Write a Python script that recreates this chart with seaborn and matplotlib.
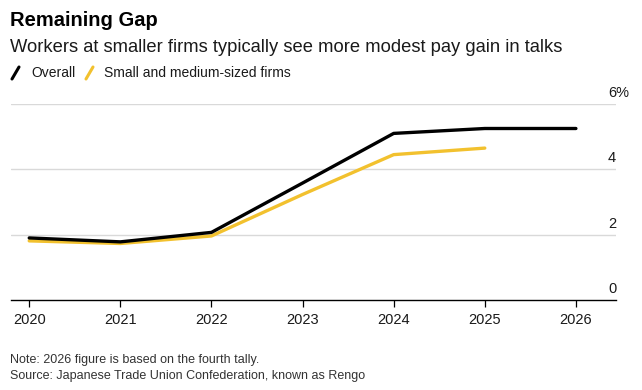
import matplotlib
matplotlib.use('Agg')
import matplotlib.pyplot as plt
import matplotlib.transforms as mtransforms
from matplotlib.lines import Line2D
import seaborn as sns
import pandas as pd

# data (% pay gain in spring wage talks)
years_overall = [2020, 2021, 2022, 2023, 2024, 2025, 2026]
overall = [1.90, 1.78, 2.07, 3.58, 5.10, 5.25, 5.25]
years_sme = [2020, 2021, 2022, 2023, 2024, 2025]
sme = [1.81, 1.73, 1.96, 3.23, 4.45, 4.65]
y_ticks = [0, 2, 4, 6]
y_labels = ['0', '2', '4', '6%']

df = pd.concat([
    pd.DataFrame({'year': years_overall, 'gain': overall, 'series': 'Overall'}),
    pd.DataFrame({'year': years_sme, 'gain': sme, 'series': 'Small and medium-sized firms'}),
])

sns.set_theme(style='white')
plt.rcParams['font.family'] = ['Liberation Sans', 'DejaVu Sans']

BLACK = '#000000'
YELLOW = '#F2C12E'
TEXT = '#1a1a1a'

fig = plt.figure(figsize=(6.42, 3.90), dpi=100)
W, H = 642, 390
ax = fig.add_axes([11 / W, 1 - 300 / H, (616 - 11) / W, (300 - 104) / H])

sns.lineplot(data=df, x='year', y='gain', hue='series',
             palette={'Overall': BLACK, 'Small and medium-sized firms': YELLOW},
             hue_order=['Small and medium-sized firms', 'Overall'],
             linewidth=2.4, legend=False, ax=ax)

ax.set_xlim(2019.8, 2026.44)
ax.set_ylim(0, 6)
ax.set_xticks(years_overall)
ax.set_xticklabels([str(y) for y in years_overall], fontsize=10.5, color=TEXT)
ax.tick_params(axis='x', direction='out', length=5, width=0.9, color=BLACK, pad=4, bottom=True)
ax.set_yticks(y_ticks)
ax.set_yticklabels([])
ax.tick_params(axis='y', length=0)
ax.set_xlabel('')
ax.set_ylabel('')
for s in ['top', 'right', 'left']:
    ax.spines[s].set_visible(False)
ax.spines['bottom'].set_color(BLACK)
ax.spines['bottom'].set_linewidth(1.0)

for t in y_ticks[1:]:
    ax.axhline(t, color='#d9d9d9', linewidth=1.0, zorder=0)

# y labels sit above the gridlines on the right
offset = mtransforms.ScaledTranslation(-8 / 100, 4 / 100, fig.dpi_scale_trans)
trans = mtransforms.blended_transform_factory(ax.transAxes, ax.transData) + offset
for t, lab in zip(y_ticks, y_labels):
    ax.text(1.0, t, lab, transform=trans, ha='left', va='bottom', fontsize=10.5, color=TEXT)

# titles
fig.text(10 / W, 1 - 21 / H, 'Remaining Gap', fontsize=14.5, fontweight='bold', color=BLACK, va='center')
fig.text(10 / W, 1 - 48 / H, 'Workers at smaller firms typically see more modest pay gain in talks',
         fontsize=13.2, color=TEXT, va='center')

# legend: slanted strokes + labels
ly = 1 - 73 / H
for x0, col in [(12, BLACK), (86, YELLOW)]:
    fig.add_artist(Line2D([x0 / W, (x0 + 7) / W], [1 - 79 / H, 1 - 67 / H],
                          color=col, linewidth=2.2, transform=fig.transFigure))
fig.text(31 / W, ly, 'Overall', fontsize=10, color=TEXT, va='center')
fig.text(104 / W, ly, 'Small and medium-sized firms', fontsize=10, color=TEXT, va='center')

# footnotes
fig.text(10 / W, 1 - 360 / H, 'Note: 2026 figure is based on the fourth tally.', fontsize=9, color='#333333', va='center')
fig.text(10 / W, 1 - 376 / H, 'Source: Japanese Trade Union Confederation, known as Rengo', fontsize=9, color='#333333', va='center')

fig.savefig('out.png', dpi=100)
